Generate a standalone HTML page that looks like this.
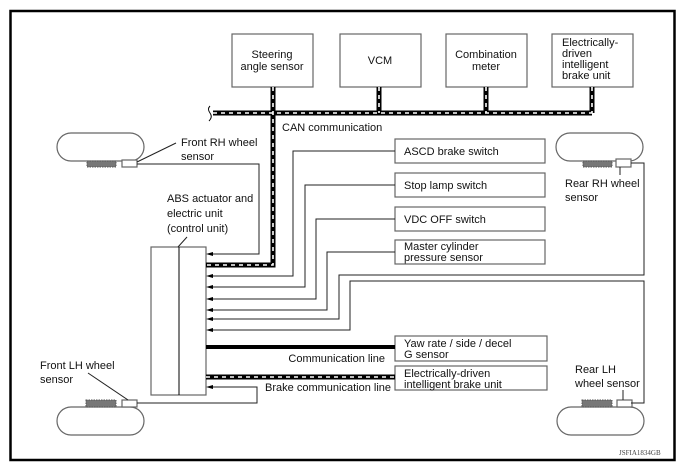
<!DOCTYPE html>
<html><head><meta charset="utf-8"><style>
html,body{margin:0;padding:0;background:#fff;}
svg{display:block;}
text{font-family:"Liberation Sans",sans-serif;font-size:11px;fill:#111;}
</style></head><body>
<svg width="685" height="472" viewBox="0 0 685 472" xmlns="http://www.w3.org/2000/svg">
<rect x="10.5" y="11" width="664" height="449" fill="#fff" stroke="#000" stroke-width="2.5"/>
<g fill="#fff" stroke="#666" stroke-width="1.2">
<rect x="232" y="34" width="81" height="53"/>
<rect x="340" y="34" width="81" height="53"/>
<rect x="446" y="34" width="81" height="53"/>
<rect x="552" y="34" width="81" height="53"/>
<rect x="395" y="139" width="150" height="24"/>
<rect x="395" y="173" width="150" height="24"/>
<rect x="395" y="207" width="150" height="24"/>
<rect x="395" y="240" width="150" height="24"/>
<rect x="395" y="336" width="152" height="25"/>
<rect x="395" y="366" width="152" height="24"/>
<rect x="151" y="247" width="55" height="148"/>
<rect x="57" y="133" width="87" height="28" rx="14"/>
<rect x="556" y="133" width="87" height="28" rx="14"/>
<rect x="57" y="407" width="87" height="28" rx="14"/>
<rect x="557" y="407" width="87" height="28" rx="14"/>
<rect x="122" y="160" width="15" height="7"/>
<rect x="616" y="159" width="15" height="8"/>
<rect x="122" y="400" width="15" height="7"/>
<rect x="617" y="400" width="15" height="7"/>
</g>
<line x1="179" y1="247" x2="179" y2="395" stroke="#000" stroke-width="1"/>
<g fill="none" stroke="#555" stroke-width="1" stroke-dasharray="1.5 1">
<rect x="87" y="161" width="29" height="6" fill="#777"/>
<rect x="583" y="161" width="29" height="6" fill="#777"/>
<rect x="86" y="400" width="30" height="7" fill="#777"/>
<rect x="582" y="400" width="30" height="7" fill="#777"/>
</g>
<g fill="none" stroke="#222" stroke-width="1">
<polyline points="137,164 259,164 259,254 210,254"/>
<polyline points="395,151 293,151 293,276 210,276"/>
<polyline points="395,185 305,185 305,287 210,287"/>
<polyline points="395,219 316,219 316,299 210,299"/>
<polyline points="395,252 327,252 327,310 210,310"/>
<polyline points="631,163 644,163 644,275 339,275 339,319 210,319"/>
<polyline points="631,403 644,403 644,281 350,281 350,330 210,330"/>
<polyline points="137,403 257,403 257,387 210,387"/>
<line x1="137" y1="162" x2="176" y2="143"/>
<line x1="620" y1="167" x2="620" y2="175"/>
<line x1="88" y1="373" x2="128" y2="400"/>
<line x1="623" y1="390" x2="623" y2="400"/>
<line x1="187" y1="237" x2="178" y2="247"/>
</g>
<g fill="#000">
<polygon points="206,254 213,252 213,256"/><polygon points="206,276 213,274 213,278"/>
<polygon points="206,287 213,285 213,289"/><polygon points="206,299 213,297 213,301"/>
<polygon points="206,310 213,308 213,312"/><polygon points="206,319 213,317 213,321"/>
<polygon points="206,330 213,328 213,332"/><polygon points="206,387 213,385 213,389"/>
</g>
<line x1="206" y1="347" x2="395" y2="347" stroke="#000" stroke-width="4"/>
<g fill="none" stroke="#000" stroke-width="5">
<polyline points="213,113 592,113"/>
<polyline points="273,87 273,265 206,265"/>
<line x1="379" y1="87" x2="379" y2="113"/>
<line x1="486" y1="87" x2="486" y2="113"/>
<line x1="592" y1="87" x2="592" y2="113"/>
<line x1="206" y1="377" x2="395" y2="377"/>
</g>
<g fill="none" stroke="#fff" stroke-width="1.6" stroke-dasharray="4 4">
<polyline points="213,113 592,113"/>
<polyline points="273,87 273,265 206,265"/>
<line x1="379" y1="87" x2="379" y2="113"/>
<line x1="486" y1="87" x2="486" y2="113"/>
<line x1="592" y1="87" x2="592" y2="113"/>
<line x1="206" y1="377" x2="395" y2="377"/>
</g>
<path d="M210,106 q-3,3 0,7 q3,4 -1,8" fill="none" stroke="#000" stroke-width="1"/>
<g text-anchor="middle">
<text x="272" y="58">Steering</text><text x="272" y="70">angle sensor</text>
<text x="380" y="64">VCM</text>
<text x="486" y="58">Combination</text><text x="486" y="70">meter</text>
</g>
<text x="562" y="46">Electrically-</text><text x="562" y="57">driven</text>
<text x="562" y="68">intelligent</text><text x="562" y="79">brake unit</text>
<text x="282" y="131">CAN communication</text>
<text x="181" y="146">Front RH wheel</text><text x="181" y="160">sensor</text>
<text x="167" y="202">ABS actuator and</text><text x="167" y="217">electric unit</text><text x="167" y="232">(control unit)</text>
<text x="404" y="155">ASCD brake switch</text>
<text x="404" y="189">Stop lamp switch</text>
<text x="404" y="223">VDC OFF switch</text>
<text x="404" y="250">Master cylinder</text><text x="404" y="261">pressure sensor</text>
<text x="404" y="347">Yaw rate / side / decel</text><text x="404" y="358">G sensor</text>
<text x="404" y="377">Electrically-driven</text><text x="404" y="388">intelligent brake unit</text>
<text x="385" y="362" text-anchor="end">Communication line</text>
<text x="391" y="391" text-anchor="end">Brake communication line</text>
<text x="565" y="187">Rear RH wheel</text><text x="565" y="201">sensor</text>
<text x="40" y="369">Front LH wheel</text><text x="40" y="383">sensor</text>
<text x="575" y="373">Rear LH</text><text x="575" y="387">wheel sensor</text>
<text x="619" y="455" style="font-family:'Liberation Serif',serif;font-size:7px;fill:#444">JSFIA1834GB</text>
</svg>
</body></html>
